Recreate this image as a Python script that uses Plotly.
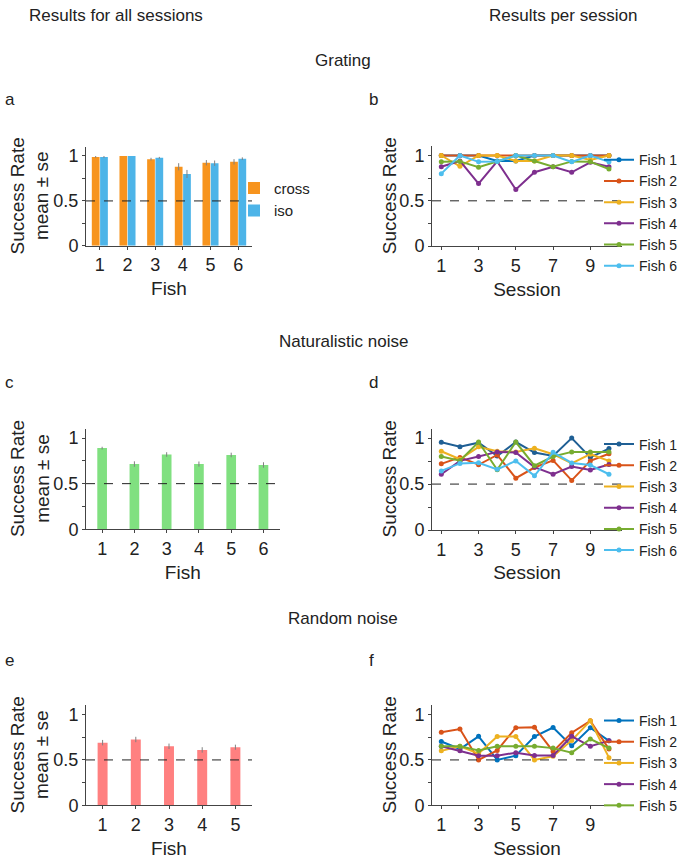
import plotly.graph_objects as go

W, H = 685, 865

# ---------------- data ----------------
fish6 = [1, 2, 3, 4, 5, 6]
fish5 = [1, 2, 3, 4, 5]
sessions = [1, 2, 3, 4, 5, 6, 7, 8, 9, 10]
CHANCE = 0.5

cross_mean = [0.99, 1.00, 0.965, 0.88, 0.925, 0.935]
cross_se = [0.01, 0.0, 0.015, 0.04, 0.03, 0.03]
iso_mean = [0.99, 1.00, 0.98, 0.80, 0.92, 0.97]
iso_se = [0.01, 0.0, 0.01, 0.045, 0.03, 0.015]

nat_mean = [0.89, 0.715, 0.82, 0.715, 0.815, 0.705]
nat_se = [0.015, 0.03, 0.025, 0.028, 0.025, 0.03]

rnd_mean = [0.69, 0.725, 0.65, 0.61, 0.64]
rnd_se = [0.03, 0.03, 0.03, 0.03, 0.028]

grat_f1 = [1.0, 1.0, 1.0, 0.94, 0.94, 1.0, 1.0, 1.0, 1.0, 1.0]
grat_f2 = [1.0, 1.0, 1.0, 1.0, 1.0, 1.0, 1.0, 1.0, 1.0, 1.0]
grat_f3 = [1.0, 0.88, 1.0, 1.0, 0.94, 0.94, 1.0, 1.0, 0.95, 1.0]
grat_f4 = [0.875, 0.94, 0.69, 0.935, 0.625, 0.815, 0.875, 0.815, 0.925, 0.875]
grat_f5 = [0.93, 0.935, 0.87, 0.935, 1.0, 0.94, 0.875, 0.935, 0.93, 0.85]
grat_f6 = [0.8, 1.0, 0.93, 0.935, 1.0, 1.0, 1.0, 0.93, 1.0, 0.93]

nat_f1 = [0.955, 0.905, 0.95, 0.805, 0.957, 0.843, 0.805, 1.0, 0.79, 0.886]
nat_f2 = [0.72, 0.79, 0.71, 0.817, 0.564, 0.68, 0.757, 0.54, 0.752, 0.83]
nat_f3 = [0.857, 0.77, 0.905, 0.857, 0.85, 0.89, 0.825, 0.725, 0.825, 0.752]
nat_f4 = [0.607, 0.752, 0.80, 0.85, 0.843, 0.685, 0.607, 0.69, 0.653, 0.712]
nat_f5 = [0.80, 0.755, 0.957, 0.655, 0.957, 0.70, 0.80, 0.85, 0.85, 0.85]
nat_f6 = [0.643, 0.725, 0.732, 0.66, 0.752, 0.59, 0.845, 0.73, 0.707, 0.607]

rnd_f1 = [0.703, 0.62, 0.76, 0.50, 0.547, 0.757, 0.857, 0.655, 0.855, 0.71]
rnd_f2 = [0.804, 0.84, 0.50, 0.605, 0.855, 0.86, 0.594, 0.80, 0.93, 0.62]
rnd_f3 = [0.60, 0.65, 0.57, 0.757, 0.757, 0.50, 0.54, 0.715, 0.93, 0.525]
rnd_f4 = [0.65, 0.60, 0.547, 0.547, 0.58, 0.55, 0.55, 0.76, 0.65, 0.71]
rnd_f5 = [0.65, 0.65, 0.605, 0.65, 0.65, 0.65, 0.63, 0.58, 0.73, 0.63]

fish_names = ["Fish 1", "Fish 2", "Fish 3", "Fish 4", "Fish 5", "Fish 6"]
line_colors = ["#0072BD", "#D95319", "#EDB120", "#7E2F8E", "#77AC30", "#4DBEEE"]
line_colors_d = ["#1F5F94", "#D95319", "#EDB120", "#7E2F8E", "#77AC30", "#4DBEEE"]

# ---------------- helpers ----------------
def px(x):
    return x / W

def py(y):
    return 1 - y / H

AX_FONT = "Liberation Sans, Arial, sans-serif"
HEAD_FONT = "Liberation Sans Narrow, Arial Narrow, Liberation Sans, Arial, sans-serif"
TXT = "#222222"
AXC = "#444444"

fig = go.Figure()

# ---------------- panel a ----------------
fig.add_trace(go.Bar(x=fish6, y=cross_mean, name="cross", width=0.28, offset=-0.29,
                     marker=dict(color="#F7941E", line=dict(width=0)),
                     error_y=dict(type="data", array=cross_se, color="#808080", thickness=1, width=0),
                     xaxis="x", yaxis="y", legend="legend"))
fig.add_trace(go.Bar(x=fish6, y=iso_mean, name="iso", width=0.28, offset=0.01,
                     marker=dict(color="#4DB4E8", line=dict(width=0)),
                     error_y=dict(type="data", array=iso_se, color="#808080", thickness=1, width=0),
                     xaxis="x", yaxis="y", legend="legend"))

# ---------------- panel c ----------------
fig.add_trace(go.Bar(x=fish6, y=nat_mean, name="naturalistic", width=0.3, showlegend=False,
                     marker=dict(color="#80E080", line=dict(width=0)),
                     error_y=dict(type="data", array=nat_se, color="#808080", thickness=1, width=0),
                     xaxis="x3", yaxis="y3"))

# ---------------- panel e ----------------
fig.add_trace(go.Bar(x=fish5, y=rnd_mean, name="random", width=0.3, showlegend=False,
                     marker=dict(color="#FF8080", line=dict(width=0)),
                     error_y=dict(type="data", array=rnd_se, color="#808080", thickness=1, width=0),
                     xaxis="x5", yaxis="y5"))

# ---------------- line panels ----------------
def add_lines(series, colors, xa, ya, leg):
    for name, ys, c in zip(fish_names, series, colors):
        fig.add_trace(go.Scatter(x=sessions, y=ys, name=name, mode="lines+markers",
                                 line=dict(color=c, width=2),
                                 marker=dict(color=c, size=5),
                                 xaxis=xa, yaxis=ya, legend=leg))

add_lines([grat_f1, grat_f2, grat_f3, grat_f4, grat_f5, grat_f6], line_colors, "x2", "y2", "legend2")
add_lines([nat_f1, nat_f2, nat_f3, nat_f4, nat_f5, nat_f6], line_colors_d, "x4", "y4", "legend3")
add_lines([rnd_f1, rnd_f2, rnd_f3, rnd_f4, rnd_f5], line_colors, "x6", "y6", "legend4")

# ---------------- axes ----------------
base_ax = dict(showline=True, linecolor=AXC, linewidth=1, showgrid=False, zeroline=False,
               ticks="outside", ticklen=3, tickcolor=AXC, tickwidth=1,
               tickfont=dict(family=AX_FONT, size=18, color=TXT))

yt = dict(range=[0, 1.1], tickvals=[0, 0.25, 0.5, 0.75, 1], ticktext=["0", "", "0.5", "", "1"])

def xtitle(t):
    return dict(text=t, font=dict(family=AX_FONT, size=19, color=TXT), standoff=7)

# pixel boxes: (x0, x1, ytop, ybottom)
boxes = {
    1: (86, 252, 147.9, 248.0),
    2: (432, 622, 147.3, 248.3),
    3: (86, 279.6, 433.5, 535.0),
    4: (432, 622, 433.4, 535.9),
    5: (86, 252, 713.5, 814.7),
    6: (432, 622, 713.5, 814.7),
}

layout_axes = {}
for i, (x0, x1, yt0, yb0) in boxes.items():
    xs = "xaxis" if i == 1 else f"xaxis{i}"
    ys = "yaxis" if i == 1 else f"yaxis{i}"
    yref = "y" if i == 1 else f"y{i}"
    xref = "x" if i == 1 else f"x{i}"
    xa = dict(base_ax, domain=[px(x0), px(x1)], anchor=yref)
    if i in (1, 3):
        xa.update(range=[0.5, 6.5], tickvals=fish6, title=xtitle("Fish"))
    elif i == 5:
        xa.update(range=[0.5, 5.5], tickvals=fish5, title=xtitle("Fish"))
    else:
        xa.update(range=[0.5, 10.7], tickvals=[1, 3, 5, 7, 9], title=xtitle("Session"))
    ya = dict(base_ax, domain=[py(yb0), py(yt0)], anchor=xref, **yt)
    layout_axes[xs] = xa
    layout_axes[ys] = ya

# ---------------- chance lines ----------------
shapes = []
for i in range(1, 7):
    xr = "x" if i == 1 else f"x{i}"
    yr = "y" if i == 1 else f"y{i}"
    shapes.append(dict(type="line", xref=f"{xr} domain", yref=yr, x0=0, x1=1,
                       y0=CHANCE, y1=CHANCE, line=dict(color="#222222", width=1, dash="dash"),
                       layer="above"))

# ---------------- annotations ----------------
ann = []
def text(t, x, y, size=17, family=HEAD_FONT, xanchor="center", angle=0):
    ann.append(dict(text=t, x=px(x), y=py(y), xref="paper", yref="paper", showarrow=False,
                    xanchor=xanchor, yanchor="middle", textangle=angle,
                    font=dict(family=family, size=size, color=TXT)))

text("Results for all sessions", 116, 15)
text("Results per session", 563, 15)
text("Grating", 343, 60)
text("Naturalistic noise", 343, 345)
text("Random noise", 343, 625)
for lab, x, y in [("a", 3, 100), ("b", 367, 100), ("c", 3, 386), ("d", 367, 386), ("e", 3, 668), ("f", 367, 668)]:
    text(lab, x, y, xanchor="left")

for i, (x0, x1, yt0, yb0) in boxes.items():
    yc = (yt0 + yb0) / 2
    if i in (1, 3, 5):
        text("Success Rate<br>mean \u00b1 se", 30, yc, size=19, family=AX_FONT, angle=-90)
    else:
        text("Success Rate", 389, yc, size=19, family=AX_FONT, angle=-90)

# ---------------- legends ----------------
def leg(x, y, size):
    return dict(x=px(x), y=py(y), xanchor="left", yanchor="top", bgcolor="rgba(0,0,0,0)",
                borderwidth=0, itemwidth=30, tracegroupgap=0,
                font=dict(family=AX_FONT, size=size, color=TXT))

fig.update_layout(
    width=W, height=H, margin=dict(l=0, r=0, t=0, b=0),
    paper_bgcolor="white", plot_bgcolor="white",
    barmode="overlay",
    showlegend=True,
    legend=leg(234, 173, 15),
    legend2=leg(599, 145, 14),
    legend3=leg(599, 433, 14),
    legend4=leg(599, 713, 14),
    shapes=shapes,
    annotations=ann,
    **layout_axes,
)

fig.write_html("out.html")
